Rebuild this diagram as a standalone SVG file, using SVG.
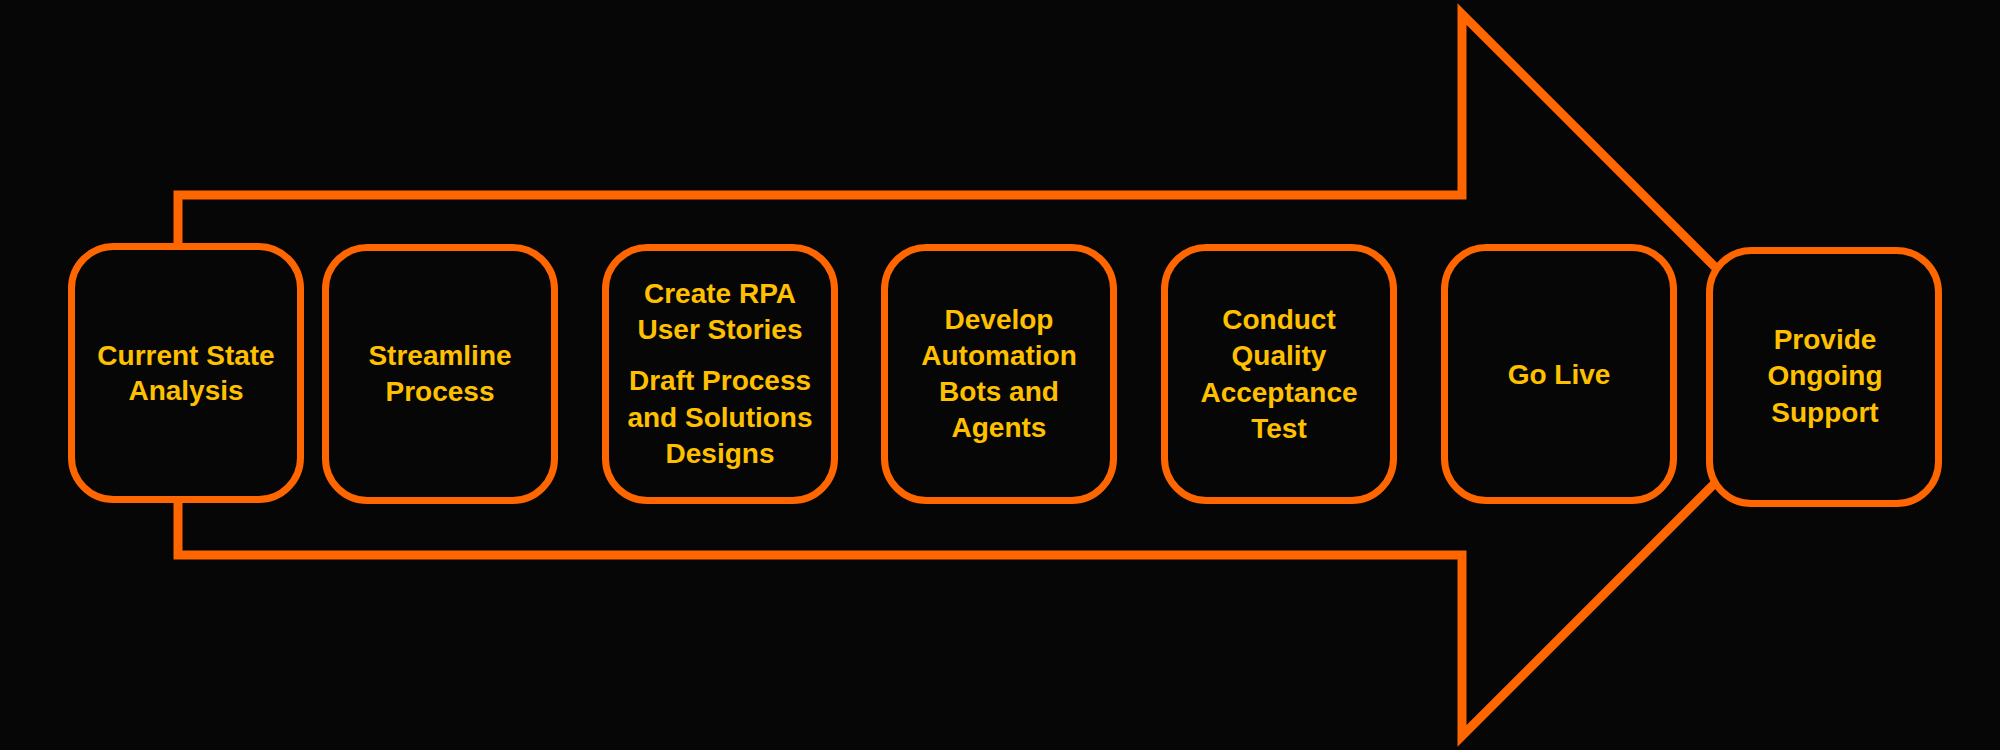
<svg xmlns="http://www.w3.org/2000/svg" width="2000" height="750" viewBox="0 0 2000 750">
  <style>
    .box { fill: #060606; stroke: #FF6600; stroke-width: 7; }
    .lbl { font-family: "Liberation Sans", Arial, sans-serif; font-weight: bold; font-size: 28px; fill: #FFC000; text-anchor: middle; }
    .arrow { fill: none; stroke: #FF6600; stroke-width: 9; stroke-linejoin: miter; }
  </style>
  <rect x="0" y="0" width="2000" height="750" fill="#060606"/>
  <g id="connectors">
    <polygon class="arrow" points="178,195 1462,195 1462,14 1823,375 1462,736 1462,555 178,555"/>
  </g>
  <g id="node1">
    <rect class="box" x="71.5" y="246.5" width="229" height="253" rx="42"/>
    <text class="lbl" x="186" y="365">Current State</text>
    <text class="lbl" x="186" y="400">Analysis</text>
  </g>
  <g id="node2">
    <rect class="box" x="325.5" y="247.5" width="229" height="253" rx="42"/>
    <text class="lbl" x="440" y="365">Streamline</text>
    <text class="lbl" x="440" y="401">Process</text>
  </g>
  <g id="node3">
    <rect class="box" x="605.5" y="247.5" width="229" height="253" rx="42"/>
    <text class="lbl" x="720" y="303">Create RPA</text>
    <text class="lbl" x="720" y="339">User Stories</text>
    <text class="lbl" x="720" y="390">Draft Process</text>
    <text class="lbl" x="720" y="427">and Solutions</text>
    <text class="lbl" x="720" y="463">Designs</text>
  </g>
  <g id="node4">
    <rect class="box" x="884.5" y="247.5" width="229" height="253" rx="42"/>
    <text class="lbl" x="999" y="329">Develop</text>
    <text class="lbl" x="999" y="365">Automation</text>
    <text class="lbl" x="999" y="401">Bots and</text>
    <text class="lbl" x="999" y="437">Agents</text>
  </g>
  <g id="node5">
    <rect class="box" x="1164.5" y="247.5" width="229" height="253" rx="42"/>
    <text class="lbl" x="1279" y="329">Conduct</text>
    <text class="lbl" x="1279" y="365">Quality</text>
    <text class="lbl" x="1279" y="402">Acceptance</text>
    <text class="lbl" x="1279" y="438">Test</text>
  </g>
  <g id="node6">
    <rect class="box" x="1444.5" y="247.5" width="229" height="253" rx="42"/>
    <text class="lbl" x="1559" y="384">Go Live</text>
  </g>
  <g id="node7">
    <rect class="box" x="1709.5" y="250.5" width="229" height="253" rx="42"/>
    <text class="lbl" x="1825" y="349">Provide</text>
    <text class="lbl" x="1825" y="385">Ongoing</text>
    <text class="lbl" x="1825" y="422">Support</text>
  </g>
</svg>
